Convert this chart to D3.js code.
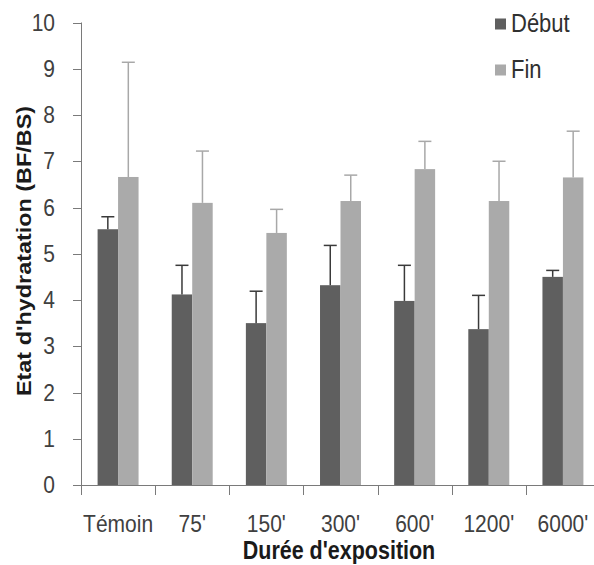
<!DOCTYPE html>
<html><head><meta charset="utf-8">
<script src="https://cdn.jsdelivr.net/npm/d3@7"></script>
<style>body{margin:0;background:#fff}svg{display:block}</style>
</head><body><svg id="c" width="594" height="565"></svg>
<script>
const categories = ["Témoin", "75'", "150'", "300'", "600'", "1200'", "6000'"];
const series = ["Début", "Fin"];
const debut = [5.53, 4.12, 3.50, 4.32, 3.98, 3.37, 4.50];
const debutErr = [0.27, 0.63, 0.69, 0.86, 0.77, 0.73, 0.14];
const fin = [6.66, 6.10, 5.45, 6.14, 6.83, 6.14, 6.65];
const finErr = [2.48, 1.12, 0.51, 0.56, 0.60, 0.86, 1.00];
const yTicks = [0,1,2,3,4,5,6,7,8,9,10];
const colors = {"Début": "#5f5f5f", "Fin": "#aaaaaa"};
const errColors = {"Début": "#3a3a3a", "Fin": "#a8a8a8"};

const svg = d3.select("#c");
const FS = 21, SY = 1.17;
const x = d3.scaleBand().domain(categories).range([81, 600]).padding(0);
const x1 = d3.scaleBand().domain(series).range([0, x.bandwidth()]).paddingInner(0).paddingOuter(0.81);
const y = d3.scaleLinear().domain([0, 10]).range([485, 22.5]);

const vals = {"Début": debut, "Fin": fin};
const errs = {"Début": debutErr, "Fin": finErr};

// axes
const ax = svg.append("g").attr("stroke", "#7a7a7a").attr("stroke-width", 1);
ax.append("line").attr("x1", 81.5).attr("x2", 81.5).attr("y1", y(10)).attr("y2", y(0) + 10);
ax.append("line").attr("x1", 81).attr("x2", 600).attr("y1", y(0) + 0.5).attr("y2", y(0) + 0.5);
yTicks.forEach(t => ax.append("line").attr("x1", 73).attr("x2", 81).attr("y1", Math.round(y(t)) + 0.5).attr("y2", Math.round(y(t)) + 0.5));
categories.slice(1).forEach(c => ax.append("line").attr("x1", Math.round(x(c)) + 0.5).attr("x2", Math.round(x(c)) + 0.5).attr("y1", y(0)).attr("y2", y(0) + 10));

function txt(g, xx, yy, s, opts) {
  const t = g.append("text").attr("transform", `translate(${xx},${yy}) scale(1,${SY})` + (opts.rot ? " rotate(-90)" : ""))
    .attr("font-family", "Liberation Sans, Arial, sans-serif").attr("font-size", opts.size || FS)
    .attr("fill", opts.fill || "#404040").attr("text-anchor", opts.anchor || "middle")
    .attr("font-weight", opts.bold ? "bold" : "normal").text(s);
  return t;
}

// y tick labels
yTicks.forEach(t => txt(svg, 55, y(t) + 8, String(t), {anchor: "end"}));
// x tick labels
categories.forEach(c => txt(svg, x(c) + x.bandwidth() / 2, 532, c, {}));

// bars
series.forEach(s => {
  const g = svg.append("g");
  categories.forEach((c, i) => {
    const bx = x(c) + x1(s);
    const w = x1.bandwidth();
    g.append("rect").attr("x", bx).attr("y", y(vals[s][i])).attr("width", w).attr("height", y(0) - y(vals[s][i])).attr("fill", colors[s]);
    const cx = bx + w / 2;
    const top = y(vals[s][i] + errs[s][i]);
    g.append("line").attr("x1", cx).attr("x2", cx).attr("y1", y(vals[s][i])).attr("y2", top).attr("stroke", errColors[s]).attr("stroke-width", 1.5);
    g.append("line").attr("x1", cx - 6.5).attr("x2", cx + 6.5).attr("y1", top).attr("y2", top).attr("stroke", errColors[s]).attr("stroke-width", 1.5);
  });
});

// legend
series.forEach((s, i) => {
  const ly = 24 + i * 46;
  svg.append("rect").attr("x", 495).attr("y", ly - 5.5).attr("width", 11).attr("height", 11).attr("fill", colors[s]);
  txt(svg, 511, ly + 8, s, {anchor: "start", fill: "#303030", size: 22});
});

// titles
txt(svg, 339, 559, "Durée d'exposition", {bold: true, fill: "#1a1a1a", size: 21.5});
txt(svg, 31, 251, "Etat d'hydratation (BF/BS)", {bold: true, fill: "#1a1a1a", rot: true, size: 20});
</script></body></html>
